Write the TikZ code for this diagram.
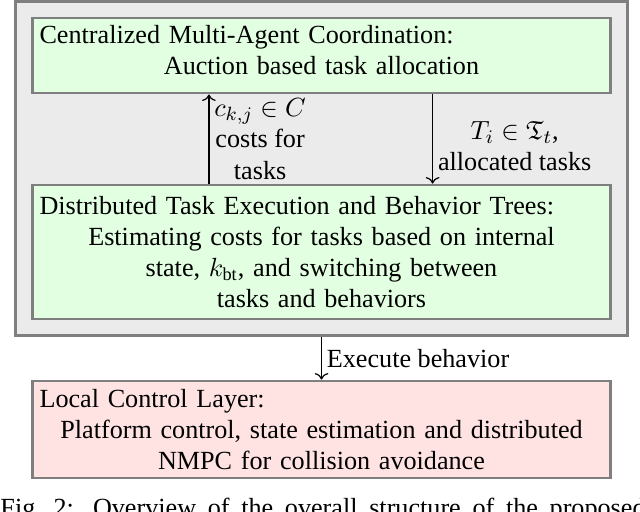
\documentclass[tikz,border=0pt]{standalone}
\usepackage{amsmath,amssymb}
\usepackage{fontspec}
\setmainfont{Liberation Serif}
\usetikzlibrary{arrows.meta,fit,backgrounds}
\definecolor{LayerGray}{HTML}{EBEBEB}
\definecolor{BorderGray}{HTML}{7F7F7F}
\definecolor{CoordGreen}{HTML}{E2FFE2}
\definecolor{LocalPink}{HTML}{FFE3E3}

\begin{document}
\begin{tikzpicture}[x=0.4167pt, y=-0.4167pt,
        layer/.style={draw=BorderGray, line width=1.2pt, text width=235pt, inner sep=3pt, font=\fontsize{10.9}{13}\selectfont},
        arr/.style={->, line width=0.5pt},
        lbl/.style={align=center, inner sep=2pt, font=\fontsize{10.9}{13.2}\selectfont}
    ]
        \useasboundingbox (0,0) rectangle (640,512);
        \node[layer, fill=CoordGreen, minimum height=31.25pt] (coord) at (321.5,55.5) {{\raggedright Centralized Multi-Agent Coordination:\par}\centering Auction based task allocation\par\nointerlineskip\vspace{4.5pt}\hbox{}};
        \node[layer, fill=CoordGreen, minimum height=55.8pt] (exec) at (321.5,252) {{\raggedright Distributed Task Execution and Behavior Trees:\par}\centering Estimating costs for tasks based on internal\\ state, $k_{\text{bt}}$, and switching between\\ tasks and behaviors\par};
        \node[layer, fill=LocalPink, minimum height=40.4pt] (local) at (321.5,429.5) {{\raggedright Local Control Layer:\par}\centering Platform control, state estimation and distributed\\ NMPC for collision avoidance\par};
        \begin{scope}[on background layer]
            \node[fit=(coord)(exec), draw=BorderGray, line width=1.2pt, fill=LayerGray, inner sep=6.25pt] (tree) {};
        \end{scope}
        \draw[arr] ([xshift=-46.9pt]exec.north) -- ([xshift=-46.9pt]coord.south) node[lbl, midway, right] (costs) {$c_{k,j}\in C$\\ costs for\\ tasks};
        \draw[arr] ([xshift=46.3pt]coord.south) -- ([xshift=46.3pt]exec.north) node[lbl, midway, right, yshift=-3pt] (alloc) {$T_i\in\mathfrak{T}_t$,\\ allocated tasks};
        \draw[arr] (tree.south) -- (local.north) node[lbl, midway, right] (execlbl) {Execute behavior};
        \node[anchor=base west, inner sep=0pt, font=\fontsize{10.9}{13}\selectfont] (caption) at (0,516) {\makebox[268.8pt][s]{Fig.~2: Overview of the overall structure of the proposed}};
    \end{tikzpicture}
\end{document}
